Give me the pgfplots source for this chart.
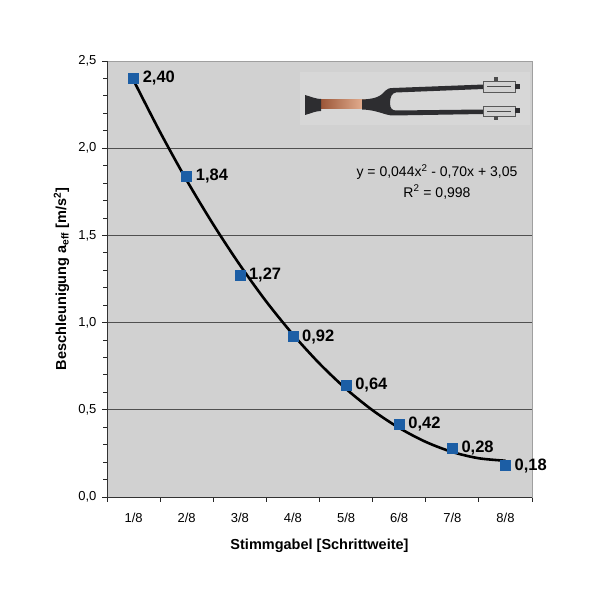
\documentclass[border=0pt]{standalone}
\usepackage{pgfplots}
\pgfplotsset{compat=1.18}
\usepackage{fontspec}
\setmainfont{Liberation Sans}
\definecolor{bggray}{RGB}{209,209,209}
\definecolor{gridc}{RGB}{80,80,80}
\definecolor{markblue}{RGB}{28,94,165}
\definecolor{forkdark}{RGB}{45,45,48}
\definecolor{copperA}{RGB}{150,80,50}
\definecolor{copperB}{RGB}{232,180,150}
\begin{document}
\begin{tikzpicture}
\path[use as bounding box] (0,0) rectangle (600pt,602pt);
\begin{axis}[
  at={(107pt,105pt)}, anchor=south west,
  width=425pt, height=436pt, scale only axis,
  xmin=0.5, xmax=8.5, ymin=0, ymax=2.5,
  xtick={0.5,1.5,...,8.5}, xticklabels={},
  extra x ticks={1,2,3,4,5,6,7,8},
  extra x tick labels={1/8,2/8,3/8,4/8,5/8,6/8,7/8,8/8},
  extra x tick style={major tick length=0pt, grid=none},
  ytick={0,0.5,1,1.5,2,2.5},
  minor y tick num=4,
  tick align=outside,
  xtick pos=left, ytick pos=left,
  major tick length=5pt, minor tick length=4pt,
  ymajorgrids,
  major grid style={gridc, line width=0.9pt},
  axis background/.style={fill=bggray},
  axis line style={draw=gray!75, line width=0.9pt},
  tick style={black!85, line width=0.9pt},
  yticklabel style={/pgf/number format/fixed, /pgf/number format/fixed zerofill,
     /pgf/number format/precision=1, /pgf/number format/use comma, xshift=-2pt},
  /pgf/number format/assume math mode=true,
  ticklabel style={font=\fontsize{13}{15}\selectfont},
  xticklabel style={yshift=-13pt},
  xlabel={Stimmgabel [Schrittweite]},
  ylabel={Beschleunigung a\textsubscript{eff} [m/s\textsuperscript{2}]},
  label style={font=\bfseries\fontsize{14.5}{16}\selectfont},
  xlabel style={at={(axis description cs:0.5,-0.113)}, anchor=center},
  ylabel style={at={(axis description cs:-0.107,0.5)}, anchor=center},
  clip=false,
]
% axis lines left and bottom darker
\draw[black!80, line width=0.9pt] (rel axis cs:0,0) -- (rel axis cs:0,1);
\draw[black!80, line width=0.9pt] (rel axis cs:0,0) -- (rel axis cs:1,0);
% fitted trend line
\addplot[black, line width=2.6pt, smooth, no marks] coordinates {
  (1,2.389) (1.5,2.092) (2,1.816) (2.5,1.563) (3,1.331) (3.5,1.120)
  (4,0.932) (4.5,0.765) (5,0.620) (5.5,0.497) (6,0.396) (6.5,0.316)
  (7,0.258) (7.5,0.222) (8,0.208)
};
% measured values
\addplot[only marks, mark=square*, mark size=5pt, color=markblue,
  point meta=explicit symbolic, nodes near coords,
  every node near coord/.append style={anchor=west, xshift=9pt, yshift=0pt,
     inner sep=0pt, text=black, font=\bfseries\fontsize{16.5}{18}\selectfont}]
  coordinates {
  (1,2.40) [{2,40}]
  (2,1.84) [{1,84}]
  (3,1.27) [{1,27}]
  (4,0.92) [{0,92}]
  (5,0.64) [{0,64}]
  (6,0.42) [{0,42}]
  (7,0.28) [{0,28}]
  (8,0.18) [{0,18}]
};
\end{axis}
\begin{scope}[x=1pt, y=-1pt, shift={(0pt,602pt)}]
  % equation
  \node[font=\fontsize{14}{16}\selectfont] at (437,172) {y = 0,044x\textsuperscript{2} - 0,70x + 3,05};
  \node[font=\fontsize{14}{16}\selectfont] at (437,192) {R\textsuperscript{2} = 0,998};
  % tuning fork picture
  \fill[black!8!white, opacity=0.25] (300,72) rectangle (530,125);
  \fill[copperA, left color=copperA, right color=copperB] (318,100) rectangle (366,109);
  \fill[forkdark] (305,95) .. controls (312,97) and (316,99) .. (321,99) -- (321,111)
     .. controls (316,111) and (312,113) .. (305,115) -- cycle;
  \fill[forkdark] (362,99.5) .. controls (376,99) and (381,96) .. (385,91)
     .. controls (387,89) and (389,88) .. (393,88) -- (484,84.5) -- (484,89)
     -- (396,92.5) .. controls (392,93) and (390,97) .. (390,103)
     .. controls (390,108) and (392,110.5) .. (396,110.5) -- (484,109.5) -- (484,114)
     -- (393,115.5) .. controls (385,115.5) and (378,110) .. (362,109.5) -- cycle;
  \fill[gray!35, draw=gray!70!black, line width=0.6pt] (483,81) rectangle (515,92);
  \fill[gray!35, draw=gray!70!black, line width=0.6pt] (483,106) rectangle (515,116);
  \draw[gray!60!black, line width=0.5pt] (487,86.5) -- (511,86.5);
  \draw[gray!60!black, line width=0.5pt] (487,111) -- (511,111);
  \fill[forkdark] (515,84) rectangle (520,89);
  \fill[forkdark] (515,108.5) rectangle (520,113.5);
  \fill[gray!60!black] (494,77) rectangle (498,81);
  \fill[gray!60!black] (494,116) rectangle (498,120);
\end{scope}
\end{tikzpicture}
\end{document}
